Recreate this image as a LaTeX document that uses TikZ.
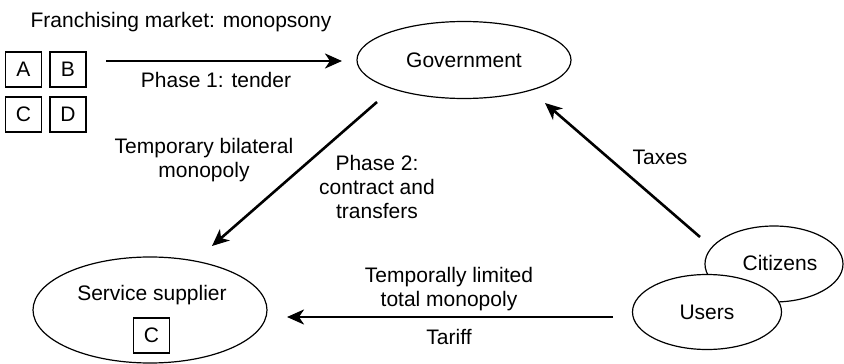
\documentclass[tikz,border=0pt]{standalone}
\usepackage{fontspec}
\setmainfont{Liberation Sans}
\usetikzlibrary{arrows.meta,shapes.geometric}
\tikzset{
  ell/.style={draw, ellipse, line width=1.2pt, inner sep=0pt},
  boxnode/.style={draw, rectangle, line width=1.2pt, minimum width=36pt, minimum height=35pt, inner sep=0pt},
  conn/.style={line width=2.6pt, -{Stealth[length=17pt,width=15pt,inset=5pt]}},
  lbl/.style={align=center, inner sep=0pt}
}
\begin{document}
\begin{tikzpicture}[x=1pt,y=-1pt,font=\fontsize{21}{24}\selectfont]
\useasboundingbox (0,0) rectangle (844,364);
% ellipses
\node[ell, minimum width=214pt, minimum height=77pt] (gov) at (464,60) {Government};
\node[ell, minimum width=234pt, minimum height=106pt] (sup) at (150,310) {};
\node[lbl] (suptext) at (152,295) {Service supplier};
\node[boxnode] (sc) at (151.5,335.5) {C};
\node[ell, minimum width=138pt, minimum height=76pt] (cit) at (774,264) {};
\node[lbl] (cittext) at (780,263) {Citizens};
\node[ell, fill=white, minimum width=149pt, minimum height=75pt] (usr) at (707,312) {Users};
% boxes
\node[boxnode] (ba) at (23.5,69.5) {A};
\node[boxnode] (bb) at (68,69.5) {B};
\node[boxnode] (bc) at (23.5,114.5) {C};
\node[boxnode] (bd) at (68,114.5) {D};
% coordinates
\coordinate (a1s) at (106,61);
\coordinate (a1e) at (342,61);
\coordinate (a2s) at (377,102);
\coordinate (a2e) at (212,246);
\coordinate (a3s) at (700,237);
\coordinate (a3e) at (545,103);
\coordinate (a4s) at (613,317);
\coordinate (a4e) at (287,317);
% connectors
\draw[conn] (a1s) -- (a1e);
\draw[conn] (a2s) -- (a2e);
\draw[conn] (a3s) -- (a3e);
\draw[conn] (a4s) -- (a4e);
% labels
\node[lbl] (l1) at (181,22) {Franchising market: monopsony};
\node[lbl] (l2) at (216,80) {Phase 1: tender};
\node[lbl] (l3) at (204,160) {Temporary bilateral\\monopoly};
\node[lbl] (l4) at (377,186.5) {Phase 2:\\contract and\\transfers};
\node[lbl] (l5) at (660,157) {Taxes};
\node[lbl] (l6) at (449,289) {Temporally limited\\total monopoly};
\node[lbl] (l7) at (449,337) {Tariff};
\end{tikzpicture}
\end{document}
